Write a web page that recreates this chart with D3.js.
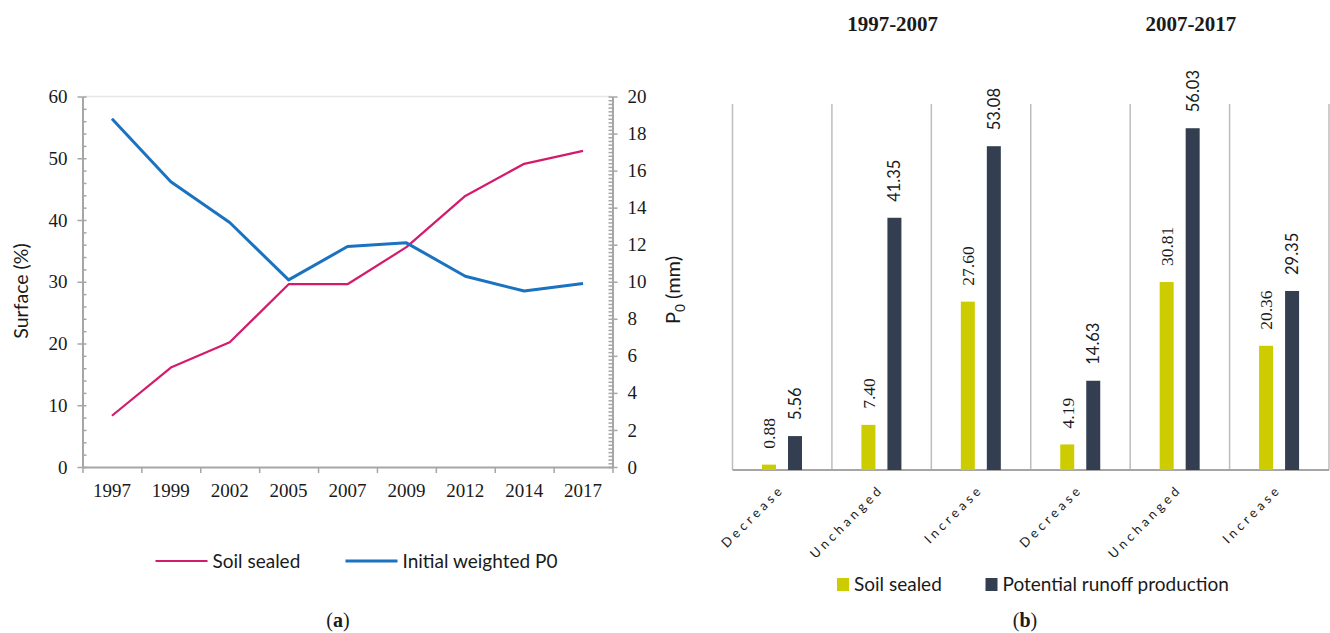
<!DOCTYPE html>
<html>
<head>
<meta charset="utf-8">
<script src="https://cdn.jsdelivr.net/npm/d3@7"></script>
<style>
  html, body { margin: 0; padding: 0; background: #fff; }
  svg { display: block; }
  .serif { font-family: "Liberation Serif", "DejaVu Serif", serif; }
  .sans { font-family: Lato, "Open Sans", "Noto Sans", sans-serif; }
</style>
</head>
<body>
<svg id="chart" width="1330" height="633"></svg>
<script>
// ---- Panel (a): soil sealing and initial weighted P0 over time ----
const years = ["1997", "1999", "2002", "2005", "2007", "2009", "2012", "2014", "2017"];
const soilSealed = [8.3, 16.1, 20.2, 29.6, 29.6, 35.6, 43.9, 49.1, 51.2];   // Surface (%)
const initialP0 = [18.8, 15.4, 13.2, 10.1, 11.9, 12.1, 10.3, 9.5, 9.9];     // P0 (mm)
const surfaceTicks = [0, 10, 20, 30, 40, 50, 60];
const p0Ticks = [0, 2, 4, 6, 8, 10, 12, 14, 16, 18, 20];

// ---- Panel (b): change classes for the two decades ----
const periods = ["1997-2007", "2007-2017"];
const changeClasses = ["Decrease", "Unchanged", "Increase", "Decrease", "Unchanged", "Increase"];
const soilSealedShare = [0.88, 7.40, 27.60, 4.19, 30.81, 20.36];
const runoffShare = [5.56, 41.35, 53.08, 14.63, 56.03, 29.35];

const PINK = "#d41a6d", BLUE = "#1a72c1", YELLOW = "#cccc00", NAVY = "#333f50";
const AXIS = "#a6a6a6", TEXT = "#1a1a1a";
const SERIF = "Liberation Serif, DejaVu Serif, serif";
const SANS = "Lato, Open Sans, sans-serif";

const svg = d3.select("#chart");
svg.append("rect").attr("width", 1330).attr("height", 633).attr("fill", "#fff");

// ================= Panel (a) =================
const a = svg.append("g");
const xA = d3.scaleBand().domain(years).range([82.5, 612.5]);
const xEdges = d3.scaleLinear().domain([0, years.length]).range([82.5, 612.5]);
const yL = d3.scaleLinear().domain([0, 60]).range([467, 96.5]);
const yR = d3.scaleLinear().domain([0, 20]).range([467, 96.5]);
const cx = d => xA(d) + xA.bandwidth() / 2;

// faint top border
a.append("line").attr("x1", 82.5).attr("x2", 612.5).attr("y1", yL(60)).attr("y2", yL(60))
  .attr("stroke", "#e6e6e6").attr("stroke-width", 1.5);

function styleAxis(g, showText) {
  g.select(".domain").attr("stroke", AXIS).attr("stroke-width", 2);
  g.selectAll(".tick line").attr("stroke", AXIS).attr("stroke-width", 1.5);
  g.selectAll("text").attr("fill", TEXT).attr("font-size", 19).attr("font-family", SERIF);
  if (!showText) g.selectAll("text").remove();
}

// left axis: minor ticks inside, majors outside
a.append("g").attr("transform", "translate(82.5,0)")
  .call(d3.axisRight(yL).tickValues(d3.range(0, 60.01, 2)).tickSize(4).tickSizeOuter(0).tickFormat(""))
  .call(g => styleAxis(g, false)).call(g => g.select(".domain").remove());
a.append("g").attr("transform", "translate(82.5,0)")
  .call(d3.axisLeft(yL).tickValues(surfaceTicks).tickSize(5).tickSizeOuter(0).tickPadding(10))
  .call(g => styleAxis(g, true));

// right axis
a.append("g").attr("transform", "translate(612.5,0)")
  .call(d3.axisLeft(yR).tickValues(d3.range(0, 20.001, 0.2)).tickSize(4).tickSizeOuter(0).tickFormat(""))
  .call(g => styleAxis(g, false)).call(g => g.select(".domain").remove());
a.append("g").attr("transform", "translate(612.5,0)")
  .call(d3.axisRight(yR).tickValues(p0Ticks).tickSize(5).tickSizeOuter(0).tickPadding(10))
  .call(g => styleAxis(g, true));

// bottom axis: ticks at category edges, labels centred in each band
a.append("g").attr("transform", "translate(0,467)")
  .call(d3.axisBottom(xEdges).tickValues(d3.range(0, years.length + 1)).tickSize(6).tickSizeOuter(0).tickFormat(""))
  .call(g => styleAxis(g, false));
a.append("g").attr("transform", "translate(0,467)")
  .call(d3.axisBottom(xA).tickSize(0).tickPadding(17))
  .call(g => styleAxis(g, true)).call(g => g.select(".domain").remove());

// axis titles
a.append("text").attr("class", "sans")
  .attr("transform", "translate(28,291) rotate(-90)")
  .attr("text-anchor", "middle").attr("font-size", 19.5).attr("fill", TEXT)
  .text("Surface (%)");
const p0Title = a.append("text").attr("class", "sans")
  .attr("transform", "translate(680,290) rotate(-90)")
  .attr("text-anchor", "middle").attr("font-size", 20).attr("fill", TEXT);
p0Title.append("tspan").text("P");
p0Title.append("tspan").attr("font-size", 13.5).attr("dy", 5).text("0");
p0Title.append("tspan").attr("dy", -5).text(" (mm)");

// series lines
const lineL = d3.line().x((d, i) => cx(years[i])).y(d => yL(d));
const lineR = d3.line().x((d, i) => cx(years[i])).y(d => yR(d));
a.append("path").datum(soilSealed).attr("d", lineL)
  .attr("fill", "none").attr("stroke", PINK).attr("stroke-width", 2.2).attr("stroke-linejoin", "round");
a.append("path").datum(initialP0).attr("d", lineR)
  .attr("fill", "none").attr("stroke", BLUE).attr("stroke-width", 3).attr("stroke-linejoin", "round");

// legend (a)
const legA = [
  { label: "Soil sealed", color: PINK, w: 2.2, x: 155.5 },
  { label: "Initial weighted P0", color: BLUE, w: 3, x: 345.5 }
];
legA.forEach(l => {
  a.append("line").attr("x1", l.x).attr("x2", l.x + 52).attr("y1", 561).attr("y2", 561)
    .attr("stroke", l.color).attr("stroke-width", l.w);
  a.append("text").attr("class", "sans").attr("x", l.x + 57).attr("y", 567.5)
    .attr("font-size", 19).attr("fill", TEXT).text(l.label);
});

// caption (a)
const capA = a.append("text").attr("class", "serif").attr("x", 338).attr("y", 627)
  .attr("text-anchor", "middle").attr("font-size", 20).attr("fill", TEXT);
capA.append("tspan").text("(");
capA.append("tspan").attr("font-weight", "bold").text("a");
capA.append("tspan").text(")");

// ================= Panel (b) =================
const b = svg.append("g");
const catIdx = d3.range(changeClasses.length);
const xB = d3.scaleBand().domain(catIdx).range([732.5, 1329]);
const xS = d3.scaleBand().domain(["soil", "runoff"]).range([29.5, 69.5]).paddingInner(0.4615);
const yB = d3.scaleLinear().domain([0, 60]).range([470, 104]);

// separators between categories
b.selectAll("line.sep").data(d3.range(changeClasses.length + 1)).join("line")
  .attr("class", "sep")
  .attr("x1", i => 732.5 + i * xB.step()).attr("x2", i => 732.5 + i * xB.step())
  .attr("y1", yB(60)).attr("y2", yB(0))
  .attr("stroke", "#bdbdbd").attr("stroke-width", 1.5);

// baseline
b.append("line").attr("x1", 732.5).attr("x2", 1329).attr("y1", yB(0)).attr("y2", yB(0))
  .attr("stroke", AXIS).attr("stroke-width", 2);

const barData = [];
catIdx.forEach(i => {
  barData.push({ i, key: "soil", v: soilSealedShare[i] });
  barData.push({ i, key: "runoff", v: runoffShare[i] });
});

b.selectAll("rect.bar").data(barData).join("rect")
  .attr("class", "bar")
  .attr("x", d => xB(d.i) + xS(d.key))
  .attr("width", xS.bandwidth())
  .attr("y", d => yB(d.v))
  .attr("height", d => yB(0) - yB(d.v))
  .attr("fill", d => d.key === "soil" ? YELLOW : NAVY);

// value labels, rotated, above each bar
b.selectAll("text.val").data(barData).join("text")
  .attr("class", "val")
  .attr("transform", d => `translate(${xB(d.i) + xS(d.key) + xS.bandwidth() / 2},${yB(d.v) - 16}) rotate(-90)`)
  .attr("dy", "0.36em")
  .attr("text-anchor", "start")
  .attr("fill", TEXT)
  .attr("font-family", d => d.key === "soil" ? SERIF : SANS)
  .attr("font-size", d => d.key === "soil" ? 17.5 : 16.5)
  .text(d => d.v.toFixed(2));

// category labels, slanted with wide tracking
b.selectAll("text.cat").data(catIdx).join("text")
  .attr("class", "cat sans")
  .attr("transform", i => `translate(${xB(i) + xB.bandwidth() / 2 + 3},${490}) rotate(-45)`)
  .attr("text-anchor", "end")
  .attr("font-size", 13)
  .attr("letter-spacing", 3.7)
  .attr("fill", TEXT)
  .text(i => changeClasses[i]);

// period titles
periods.forEach((p, k) => {
  const mid = xB(k * 3 + 1) + xB.bandwidth() / 2 + 11;
  b.append("text").attr("class", "serif").attr("x", mid).attr("y", 31)
    .attr("text-anchor", "middle").attr("font-size", 21).attr("font-weight", "bold")
    .attr("fill", TEXT).text(p);
});

// legend (b)
const legB = [
  { label: "Soil sealed", color: YELLOW, x: 837 },
  { label: "Potential runoff production", color: NAVY, x: 985.5 }
];
legB.forEach(l => {
  b.append("rect").attr("x", l.x).attr("y", 578).attr("width", 12).attr("height", 13).attr("fill", l.color);
  b.append("text").attr("class", "sans").attr("x", l.x + 17).attr("y", 591)
    .attr("font-size", 19).attr("fill", TEXT).text(l.label);
});

// caption (b)
const capB = b.append("text").attr("class", "serif").attr("x", 1025).attr("y", 627)
  .attr("text-anchor", "middle").attr("font-size", 20).attr("fill", TEXT);
capB.append("tspan").text("(");
capB.append("tspan").attr("font-weight", "bold").text("b");
capB.append("tspan").text(")");
</script>
</body>
</html>
